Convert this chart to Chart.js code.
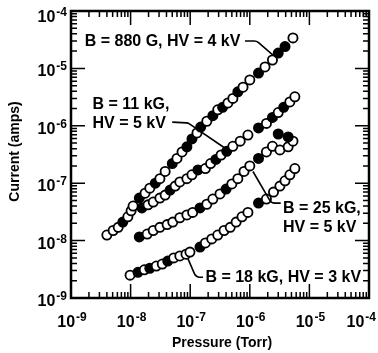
<!DOCTYPE html>
<html lang="en">
<head>
<meta charset="UTF-8">
<title>Current vs pressure</title>
<script src="https://cdn.jsdelivr.net/npm/chart.js"></script>
<style>
  html, body { margin: 0; padding: 0; background: #fff; }
</style>
</head>
<body>
<canvas id="myChart" width="378" height="353"></canvas>
<script>
// pressure (Torr) / current (amps) / filled marker (1) or open (0)
const pressA = [4.0e-9, 5.1e-9, 6.2e-9, 7.4e-9, 9.0e-9, 1.02e-8, 1.1e-8, 1.4e-8, 1.75e-8, 2.1e-8, 2.6e-8, 3.1e-8, 3.8e-8, 5.0e-8, 6.0e-8, 7.3e-8, 8.8e-8, 1.07e-7, 1.3e-7, 1.5e-7, 1.9e-7, 2.4e-7, 2.9e-7, 3.5e-7, 4.3e-7, 5.2e-7, 6.3e-7, 7.7e-7, 1.0e-6, 1.4e-6, 1.8e-6, 2.4e-6, 3.0e-6, 3.9e-6, 5.3e-6];
const currA  = [1.25e-8, 1.5e-8, 1.7e-8, 2.1e-8, 2.6e-8, 3.3e-8, 4.0e-8, 5.5e-8, 6.7e-8, 8.2e-8, 1.0e-7, 1.2e-7, 1.6e-7, 2.2e-7, 2.7e-7, 3.5e-7, 4.3e-7, 5.9e-7, 7.5e-7, 9.5e-7, 1.2e-6, 1.5e-6, 1.9e-6, 2.1e-6, 2.5e-6, 3.0e-6, 3.9e-6, 4.7e-6, 6.3e-6, 8.3e-6, 1.06e-5, 1.4e-5, 1.85e-5, 2.4e-5, 3.4e-5];
const fillA  = [0,0,0,1,0,0,0,1,0,0,1,0,0,1,0,0,1,1,0,1,0,1,0,1,0,0,1,0,0,1,0,0,1,1,0];

const pressB = [1.55e-8, 1.96e-8, 2.4e-8, 3.1e-8, 3.8e-8, 4.6e-8, 5.6e-8, 6.7e-8, 8.8e-8, 1.07e-7, 1.35e-7, 1.8e-7, 2.2e-7, 2.7e-7, 3.3e-7, 4.1e-7, 5.2e-7, 6.9e-7, 9.3e-7, 1.4e-6, 1.9e-6, 2.4e-6, 3.0e-6, 3.7e-6, 4.7e-6, 5.7e-6];
const currB  = [3.7e-8, 4.2e-8, 4.7e-8, 5.5e-8, 6.2e-8, 7.6e-8, 8.9e-8, 1.05e-7, 1.2e-7, 1.4e-7, 1.7e-7, 1.8e-7, 2.2e-7, 2.6e-7, 3.1e-7, 3.6e-7, 4.4e-7, 5.4e-7, 6.9e-7, 9.2e-7, 1.1e-6, 1.4e-6, 1.7e-6, 2.1e-6, 2.6e-6, 3.2e-6];
const fillB  = [1,0,0,0,0,1,0,0,0,0,1,0,0,1,0,1,0,0,0,1,0,1,0,1,0,0];

const pressC = [1.4e-8, 1.9e-8, 2.4e-8, 3.1e-8, 4.1e-8, 5.1e-8, 6.7e-8, 8.8e-8, 1.1e-7, 1.46e-7, 1.9e-7, 2.4e-7, 3.16e-7, 4.0e-7, 5.0e-7, 6.3e-7, 8.0e-7, 1.0e-6, 1.4e-6, 1.9e-6, 2.4e-6, 3.2e-6, 4.4e-6, 5.3e-6, 3.0e-6, 4.4e-6];
const currC  = [1.16e-8, 1.3e-8, 1.5e-8, 1.7e-8, 1.9e-8, 2.1e-8, 2.5e-8, 2.8e-8, 3.1e-8, 3.7e-8, 4.3e-8, 5.3e-8, 6.5e-8, 7.9e-8, 9.7e-8, 1.2e-7, 1.6e-7, 2.0e-7, 2.7e-7, 3.5e-7, 4.4e-7, 3.8e-7, 4.3e-7, 5.4e-7, 7.2e-7, 6.4e-7];
const fillC  = [1,0,0,0,0,0,0,0,0,1,0,0,0,1,0,0,0,0,1,0,0,0,0,0,1,1];

const pressD = [9.8e-9, 1.33e-8, 1.7e-8, 2.1e-8, 2.7e-8, 3.4e-8, 4.2e-8, 5.3e-8, 6.7e-8, 8.5e-8, 9.9e-8, 1.46e-7, 1.8e-7, 2.3e-7, 2.9e-7, 3.7e-7, 4.7e-7, 5.9e-7, 7.4e-7, 9.3e-7, 1.4e-6, 1.9e-6, 2.5e-6, 3.2e-6, 3.9e-6, 4.7e-6, 5.7e-6];
const currD  = [2.5e-9, 2.8e-9, 3.1e-9, 3.3e-9, 3.6e-9, 3.9e-9, 4.4e-9, 5.0e-9, 5.4e-9, 5.8e-9, 6.3e-9, 7.7e-9, 9.1e-9, 1.07e-8, 1.25e-8, 1.5e-8, 1.7e-8, 2.1e-8, 2.6e-8, 3.1e-8, 4.5e-8, 5.3e-8, 7.0e-8, 8.9e-8, 1.1e-7, 1.4e-7, 1.8e-7];
const fillD  = [0,1,0,1,0,0,1,0,0,0,0,1,0,0,0,0,0,0,0,0,1,0,0,0,0,0,0];

// decade exponents used for tick labels
const xTickExps = [-9, -8, -7, -6, -5, -4];
const yTickExps = [-9, -8, -7, -6, -5, -4];

// labels with leader lines, positions in data units [pressure, current]
const notes = [
  { text: ['B = 880 G, HV = 4 kV'], at: [1.7e-9, 2.9e-5],
    leader: [[8.3e-7, 3.0e-5], [1.3e-6, 3.0e-5], [2.45e-6, 1.7e-5]] },
  { text: ['B = 11 kG,', 'HV = 5 kV'], at: [2.3e-9, 2.3e-6],
    leader: [[5.0e-8, 1.16e-6], [9.2e-8, 1.12e-6], [3.8e-7, 4.1e-7]] },
  { text: ['B = 25 kG,', 'HV = 5 kV'], at: [3.6e-6, 3.6e-8],
    leader: [[3.3e-6, 4.5e-8], [2.3e-6, 4.5e-8], [1.13e-6, 1.6e-7]] },
  { text: ['B = 18 kG, HV = 3 kV'], at: [1.8e-7, 2.3e-9],
    leader: [[1.64e-7, 2.3e-9], [1.25e-7, 2.3e-9], [9.2e-8, 4.8e-9]] }
];

const FONT = '"Liberation Sans", Arial, Helvetica, sans-serif';

function makeSet(px, cy, fills) {
  return {
    data: px.map((p, i) => ({ x: p, y: cy[i] })),
    showLine: false,
    pointRadius: 4.6,
    pointHoverRadius: 4.6,
    pointBorderWidth: 1.8,
    pointBorderColor: '#000',
    pointBackgroundColor: fills.map(f => f ? '#000' : '#fff')
  };
}

function powLabel(ctx, exp, x, y, align, maxRight) {
  ctx.font = 'bold 16px ' + FONT;
  const w10 = ctx.measureText('10').width;
  ctx.font = 'bold 12px ' + FONT;
  const sup = '-' + Math.abs(exp);
  const wExp = ctx.measureText(sup).width;
  const total = w10 + 1 + wExp;
  let x0 = align === 'right' ? x - total : x - total / 2;
  if (maxRight && x0 + total > maxRight) x0 = maxRight - total;
  ctx.textAlign = 'left';
  ctx.textBaseline = 'alphabetic';
  ctx.font = 'bold 16px ' + FONT;
  ctx.fillText('10', x0, y);
  ctx.font = 'bold 12px ' + FONT;
  ctx.fillText(sup, x0 + w10 + 1, y - 6);
}

const framePlugin = {
  id: 'frame',
  afterDraw(chart) {
    const ctx = chart.ctx;
    const a = chart.chartArea;
    const xs = chart.scales.x, ys = chart.scales.y;
    ctx.save();
    ctx.strokeStyle = '#000';
    ctx.fillStyle = '#000';

    // box
    ctx.lineWidth = 2.5;
    ctx.strokeRect(a.left, a.top, a.right - a.left, a.bottom - a.top);

    // inward ticks on all four sides
    ctx.lineWidth = 1.5;
    ctx.beginPath();
    for (let e = -9; e <= -4; e++) {
      for (let m = 1; m <= 9; m++) {
        if (e === -4 && m > 1) break;
        const v = m * Math.pow(10, e);
        const len = m === 1 ? 14 : 6;
        const px = xs.getPixelForValue(v);
        ctx.moveTo(px, a.bottom); ctx.lineTo(px, a.bottom - len);
        ctx.moveTo(px, a.top); ctx.lineTo(px, a.top + len);
        const py = ys.getPixelForValue(v);
        ctx.moveTo(a.left, py); ctx.lineTo(a.left + len, py);
        ctx.moveTo(a.right, py); ctx.lineTo(a.right - len, py);
      }
    }
    ctx.stroke();

    // tick labels
    xTickExps.forEach(e => {
      powLabel(ctx, e, xs.getPixelForValue(Math.pow(10, e)) + 1, a.bottom + 29, 'center', chart.width - 2);
    });
    yTickExps.forEach(e => {
      const py = ys.getPixelForValue(Math.pow(10, e));
      powLabel(ctx, e, a.left - 4, Math.max(py + 8, 22), 'right');
    });

    // axis titles
    ctx.font = 'bold 14px ' + FONT;
    ctx.textAlign = 'center';
    ctx.textBaseline = 'middle';
    ctx.fillText('Pressure (Torr)', (a.left + a.right) / 2 + 2, a.bottom + 45);
    ctx.save();
    ctx.translate(15, (a.top + a.bottom) / 2 - 3);
    ctx.rotate(-Math.PI / 2);
    ctx.fillText('Current (amps)', 0, 0);
    ctx.restore();

    // annotations
    ctx.font = 'bold 16px ' + FONT;
    ctx.textAlign = 'left';
    ctx.textBaseline = 'middle';
    notes.forEach(n => {
      const tx = xs.getPixelForValue(n.at[0]);
      const ty = ys.getPixelForValue(n.at[1]);
      n.text.forEach((t, i) => ctx.fillText(t, tx, ty + i * 19));
      const p = n.leader.map(q => [xs.getPixelForValue(q[0]), ys.getPixelForValue(q[1])]);
      ctx.lineWidth = 1.6;
      ctx.beginPath();
      ctx.moveTo(p[0][0], p[0][1]);
      ctx.arcTo(p[1][0], p[1][1], p[2][0], p[2][1], 6);
      ctx.lineTo(p[2][0], p[2][1]);
      ctx.stroke();
    });
    ctx.restore();
  }
};

const ctx = document.getElementById('myChart');
new Chart(ctx, {
  type: 'scatter',
  data: {
    datasets: [
      makeSet(pressA, currA, fillA),
      makeSet(pressB, currB, fillB),
      makeSet(pressC, currC, fillC),
      makeSet(pressD, currD, fillD)
    ]
  },
  options: {
    responsive: false,
    animation: false,
    devicePixelRatio: 1,
    layout: { padding: { left: 71, right: 9, top: 11, bottom: 55 } },
    scales: {
      x: { type: 'logarithmic', min: 1e-9, max: 1e-4, display: false },
      y: { type: 'logarithmic', min: 1e-9, max: 1e-4, display: false }
    },
    plugins: {
      legend: { display: false },
      tooltip: { enabled: false }
    }
  },
  plugins: [framePlugin]
});
</script>
</body>
</html>
